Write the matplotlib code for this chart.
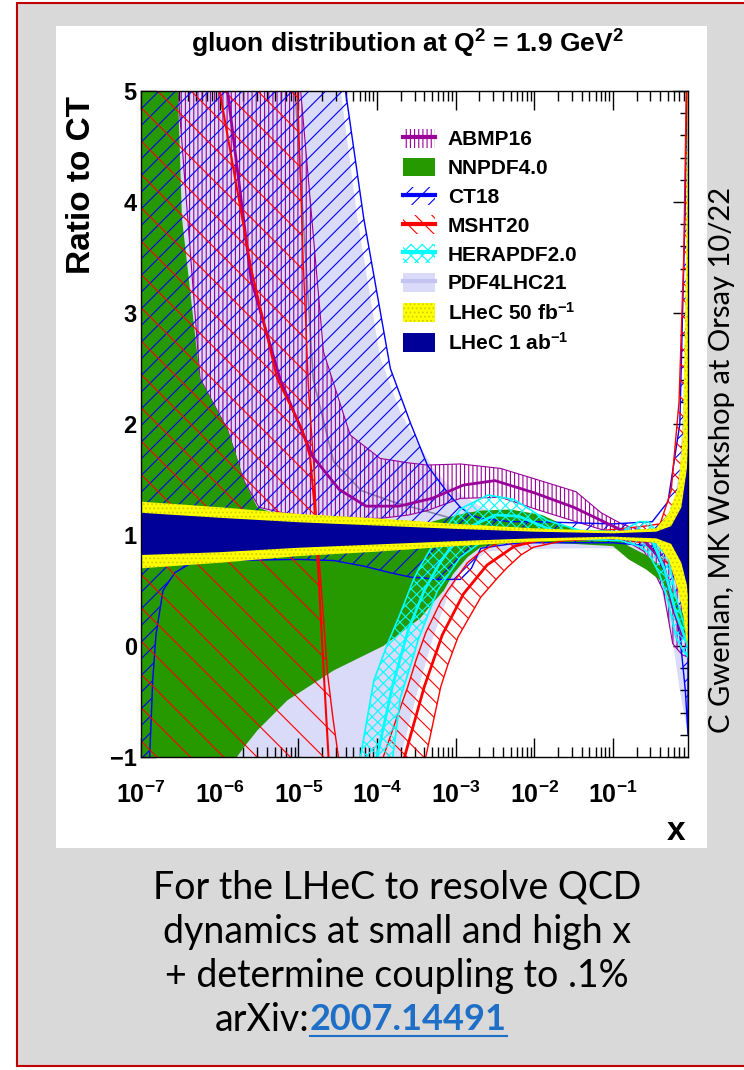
import numpy as np
import matplotlib
matplotlib.use("Agg")
import matplotlib.pyplot as plt
from matplotlib.patches import Patch, Rectangle
from matplotlib.lines import Line2D
from matplotlib.transforms import IdentityTransform
from matplotlib.ticker import FixedLocator, LogLocator, MultipleLocator, NullFormatter

plt.rcParams['font.family'] = ['Liberation Sans', 'DejaVu Sans']
plt.rcParams['mathtext.fontset'] = 'custom'
plt.rcParams['mathtext.rm'] = 'Liberation Sans:bold'
plt.rcParams['mathtext.bf'] = 'Liberation Sans:bold'
plt.rcParams['mathtext.it'] = 'Liberation Sans:bold'
plt.rcParams['mathtext.default'] = 'bf'
plt.rcParams['hatch.linewidth'] = 0.8

# ---- data: log10(x) positions and ratio-to-CT band edges ----
X_EDGE = -0.046  # log10 of the right end of the x axis

pdf4lhc_L = [-7.0, -4.6, -4.46, -4.25, -3.96, -3.7, -3.54, -3.5, -3.3, -3.1, -2.9, -2.6, -2.3, -1.5, -1.0, -0.6, -0.4, -0.25, -0.15, X_EDGE]
pdf4lhc_hi = [6.0, 6.0, 5.0, 3.86, 2.6, 2.1, 1.9, 1.85, 1.62, 1.45, 1.35, 1.22, 1.15, 1.05, 1.04, 1.05, 1.06, 1.2, 1.6, 3.0]
pdf4lhc_lo = [-2.0, -2.0, -2.0, -2.0, -2.0, -1.0, -0.56, -0.45, 0.05, 0.45, 0.7, 0.85, 0.87, 0.88, 0.88, 0.8, 0.55, 0.1, -0.4, -0.8]
pdf4lhc_cL = [-5.04, -4.81, -4.55, -4.2, -3.8, -3.3, -2.8, -2.0, -1.0, -0.5, -0.3, -0.15, X_EDGE]
pdf4lhc_c = [5.0, 2.4, 1.66, 1.4, 1.3, 1.2, 1.1, 1.0, 0.98, 0.93, 0.75, 0.5, 0.2]

abmp_L = [-7.0, -6.53, -6.25, -5.9, -5.7, -5.5, -5.2, -4.97, -4.68, -4.34, -3.96, -3.6, -3.36, -2.94, -2.43, -1.97, -1.47, -1.15, -0.89, -0.6, -0.45, -0.36, -0.24, -0.12, X_EDGE]
abmp_hi = [6.0, 6.0, 6.0, 6.0, 6.0, 6.0, 6.0, 5.0, 2.65, 1.9, 1.69, 1.65, 1.63, 1.64, 1.6, 1.5, 1.39, 1.2, 1.1, 1.03, 1.0, 0.95, 0.7, 0.4, 0.3]
abmp_lo = [6.0, 5.0, 2.41, 1.95, 1.5, 1.25, 1.2, 1.18, 1.16, 1.15, 1.15, 1.18, 1.22, 1.33, 1.34, 1.23, 1.12, 1.05, 0.97, 0.85, 0.63, 0.5, 0.02, -0.08, -0.1]
abmp_cL = [-5.9, -5.6, -5.23, -4.82, -4.48, -4.14, -3.72, -3.3, -2.9, -2.5, -2.0, -1.5, -1.0, -0.6, -0.36, -0.24, -0.12, X_EDGE]
abmp_c = [5.0, 3.3, 2.4, 1.71, 1.41, 1.26, 1.26, 1.33, 1.45, 1.49, 1.38, 1.25, 1.08, 0.95, 0.75, 0.35, 0.1, 0.05]

nnpdf_L = [-7.0, -6.53, -6.48, -6.25, -5.9, -5.78, -5.7, -5.52, -5.14, -4.55, -3.92, -3.45, -3.3, -3.15, -3.03, -2.85, -2.68, -2.3, -1.9, -1.5, -1.0, -0.8, -0.58, -0.36, -0.2, X_EDGE]
nnpdf_hi = [6.0, 5.0, 3.86, 2.41, 1.95, 1.7, 1.5, 1.25, 1.15, 1.1, 1.08, 1.1, 1.12, 1.15, 1.17, 1.2, 1.22, 1.23, 1.18, 1.05, 1.0, 0.9, 0.82, 0.7, 0.42, 0.2]
nnpdf_lo = [-2.0, -2.0, -2.0, -2.0, -2.0, -1.0, -0.92, -0.76, -0.49, -0.22, 0.0, 0.25, 0.38, 0.5, 0.65, 0.8, 0.89, 0.93, 0.93, 0.92, 0.9, 0.78, 0.69, 0.57, 0.23, 0.05]

ct18_L = [-7.0, -6.89, -6.85, -6.81, -6.72, -6.57, -6.38, -6.0, -5.0, -4.55, -4.40, -4.17, -3.83, -3.57, -3.36, -3.28, -3.1, -2.94, -2.8, -2.68, -2.3, -2.0, -1.0, -0.5, -0.3, -0.15, -0.08, X_EDGE]
ct18_hi = [6.0, 6.0, 6.0, 6.0, 6.0, 6.0, 6.0, 6.0, 6.0, 6.0, 5.0, 3.86, 2.5, 2.0, 1.63, 1.55, 1.38, 1.25, 1.18, 1.15, 1.12, 1.12, 1.1, 1.12, 1.3, 2.0, 4.0, 6.0]
ct18_lo = [-2.0, -1.0, -0.3, 0.1, 0.5, 0.66, 0.74, 0.77, 0.78, 0.77, 0.75, 0.72, 0.66, 0.62, 0.61, 0.6, 0.6, 0.6, 0.7, 0.88, 0.92, 0.93, 0.93, 0.9, 0.6, 0.1, -0.4, -0.8]

# MSHT20 ratio passes through a pole, so the band comes in two pieces
msht_a_L = [-7.0, -5.1, -5.01, -4.94, -4.87, -4.8, -4.76, -4.7, -4.63, -4.56, -4.49, -4.45]
msht_a_hi = [6.0, 6.0, 5.0, 3.5, 2.3, 1.6, 1.0, 0.45, -0.24, -0.65, -1.0, -1.2]
msht_a_lo = [-2.0] * 12
msht_b_L = [-3.92, -3.75, -3.61, -3.5, -3.38, -3.19, -3.1, -2.97, -2.85, -2.68, -2.46, -2.34, -2.17, -2.01, -1.62, -1.0, -0.6, -0.4, -0.26, -0.16, -0.1, X_EDGE]
msht_b_hi = [-1.0, -0.65, -0.37, -0.12, 0.12, 0.4, 0.5, 0.63, 0.75, 0.85, 0.93, 0.95, 0.97, 0.98, 1.0, 1.05, 1.08, 1.1, 1.4, 2.2, 3.5, 6.0]
msht_b_lo = [-2.0, -2.0, -2.0, -1.6, -1.0, -0.37, -0.17, 0.08, 0.23, 0.44, 0.62, 0.71, 0.82, 0.89, 0.95, 0.96, 0.93, 0.8, 0.72, 0.8, 0.85, 0.85]
msht_ca_L = [-6.0, -5.6, -5.27, -4.95, -4.85, -4.8, -4.74, -4.68, -4.6]
msht_ca = [5.0, 3.4, 2.41, 1.95, 1.7, 1.3, 0.6, -0.2, -1.2]
msht_cb_L = [-3.65, -3.4, -3.17, -2.9, -2.6, -2.25, -1.9, -1.0, -0.5, -0.3, -0.15, -0.08, X_EDGE]
msht_cb = [-1.0, -0.37, 0.1, 0.47, 0.73, 0.9, 0.96, 1.0, 1.0, 1.05, 1.3, 2.0, 3.0]

hera_L = [-4.21, -4.04, -3.86, -3.80, -3.70, -3.54, -3.48, -3.23, -2.94, -2.90, -2.59, -2.26, -1.83, -1.41, -0.9, -0.67, -0.55, -0.41, -0.3, -0.2, -0.1, X_EDGE]
hera_hi = [-1.0, -0.31, 0.03, 0.13, 0.3, 0.59, 0.68, 0.98, 1.23, 1.25, 1.36, 1.32, 1.13, 1.04, 1.03, 1.12, 1.12, 1.0, 0.8, 0.45, 0.2, 0.1]
hera_lo = [-2.0, -2.0, -2.0, -1.0, -0.46, -0.1, 0.05, 0.5, 0.8, 0.82, 0.98, 1.02, 0.97, 0.96, 0.95, 0.9, 0.84, 0.65, 0.4, 0.08, -0.05, -0.1]
hera_cL = [-4.0, -3.8, -3.6, -3.4, -3.2, -3.0, -2.8, -2.5, -2.2, -1.8, -1.4, -1.0, -0.7, -0.5, -0.35, -0.2, X_EDGE]
hera_c = [-1.0, -0.35, 0.15, 0.5, 0.75, 0.95, 1.08, 1.18, 1.17, 1.05, 1.0, 0.99, 1.0, 0.95, 0.7, 0.3, 0.0]

lhec50_L = [-7.0, -6.0, -5.0, -4.0, -3.0, -2.0, -1.0, -0.45, -0.29, -0.17, -0.11, -0.07, X_EDGE]
lhec50_hi = [1.30, 1.25, 1.19, 1.15, 1.10, 1.06, 1.035, 1.06, 1.2, 1.44, 1.9, 3.5, 5.5]
lhec50_lo = [0.70, 0.75, 0.81, 0.85, 0.90, 0.94, 0.965, 0.93, 0.78, 0.5, 0.3, 0.07, 0.0]

lhec1_L = [-7.0, -6.0, -5.0, -4.0, -3.0, -2.0, -1.0, -0.45, -0.26, -0.13, -0.06, X_EDGE]
lhec1_hi = [1.20, 1.155, 1.115, 1.085, 1.055, 1.03, 1.015, 1.03, 1.08, 1.25, 1.6, 1.8]
lhec1_lo = [0.82, 0.845, 0.885, 0.915, 0.945, 0.97, 0.985, 0.97, 0.92, 0.75, 0.55, 0.45]

xtick_labels = ['$10^{-7}$', '$10^{-6}$', '$10^{-5}$', '$10^{-4}$', '$10^{-3}$', '$10^{-2}$', '$10^{-1}$']
ytick_labels = ['\u22121', '0', '1', '2', '3', '4', '5']

C_ABMP, C_NNPDF, C_CT, C_MSHT = '#990099', '#269900', '#0000ff', '#ff0000'
C_HERA, C_PDF4LHC, C_LHEC50, C_LHEC1 = '#00ffff', '#dadaf9', '#ffff00', '#000099'

W, H = 744, 1070


def fx(px):
    return px / W


def fy(py):
    return 1 - py / H


def xs(L):
    return 10.0 ** np.array(L)


fig = plt.figure(figsize=(W / 100, H / 100), dpi=100)
fig.patch.set_facecolor('white')
fig.add_artist(Rectangle((fx(17), fy(1066)), fx(820) - fx(17), (1066 - 3) / H,
                         transform=fig.transFigure, facecolor='#d9d9d9',
                         edgecolor='#c00000', lw=1.5, zorder=-10))
fig.add_artist(Rectangle((fx(56), fy(848)), (707 - 56) / W, (848 - 26) / H,
                         transform=fig.transFigure, facecolor='white',
                         edgecolor='none', zorder=-9))

ax = fig.add_axes([fx(141), fy(757), (688 - 141) / W, (757 - 91) / H])

# bands, bottom to top
ax.fill_between(xs(pdf4lhc_L), pdf4lhc_lo, pdf4lhc_hi, facecolor=C_PDF4LHC, edgecolor='none', zorder=1)
ax.plot(xs(pdf4lhc_cL), pdf4lhc_c, color='#8888aa', lw=1.2, zorder=1.1)
ax.fill_between(xs(abmp_L), abmp_lo, abmp_hi, facecolor='none', edgecolor=C_ABMP, hatch='||||', lw=0.8, zorder=2)
ax.fill_between(xs(nnpdf_L), nnpdf_lo, nnpdf_hi, facecolor=C_NNPDF, edgecolor='none', zorder=3)
ax.fill_between(xs(ct18_L), ct18_lo, ct18_hi, facecolor='none', edgecolor=C_CT, hatch='//', lw=1.0, zorder=4)
ax.fill_between(xs(msht_a_L), msht_a_lo, msht_a_hi, facecolor='none', edgecolor=C_MSHT, hatch='\\', lw=1.0, zorder=5)
ax.fill_between(xs(msht_b_L), msht_b_lo, msht_b_hi, facecolor='none', edgecolor=C_MSHT, hatch='\\\\', lw=1.0, zorder=5)
ax.fill_between(xs(hera_L), hera_lo, hera_hi, facecolor='none', edgecolor=C_HERA, hatch='xxx', lw=1.2, zorder=6)

ax.plot(xs(abmp_cL), abmp_c, color=C_ABMP, lw=2, zorder=6.5)
ax.plot(xs(msht_ca_L), msht_ca, color=C_MSHT, lw=1.5, zorder=6.5)
ax.plot(xs(msht_cb_L), msht_cb, color=C_MSHT, lw=2, zorder=6.5)
ax.plot(xs(hera_cL), hera_c, color=C_HERA, lw=2, zorder=6.5)
ax.plot(xs([-7.0, X_EDGE]), [1.0, 1.0], color=C_CT, lw=2, zorder=6.5)

ax.fill_between(xs(lhec50_L), lhec50_lo, lhec50_hi, facecolor=C_LHEC50, edgecolor='#d0d000', hatch='....', lw=0, zorder=7)
ax.fill_between(xs(lhec1_L), lhec1_lo, lhec1_hi, facecolor=C_LHEC1, edgecolor='none', zorder=8)

# axes
ax.set_xscale('log')
ax.set_xlim(1e-7, 10 ** X_EDGE)
ax.set_ylim(-1, 5)
ax.xaxis.set_major_locator(FixedLocator(10.0 ** np.arange(-7, 0)))
ax.set_xticks(10.0 ** np.arange(-7, 0), xtick_labels)
ax.xaxis.set_minor_locator(LogLocator(base=10, subs=np.arange(2, 10), numticks=30))
ax.xaxis.set_minor_formatter(NullFormatter())
ax.set_yticks([-1, 0, 1, 2, 3, 4, 5], ytick_labels)
ax.yaxis.set_minor_locator(MultipleLocator(0.2))
ax.tick_params(which='both', direction='in', top=True, right=True, width=1, color='black')
ax.tick_params(axis='x', which='major', length=14, labelsize=18, pad=18)
ax.tick_params(axis='x', which='minor', length=7.5)
ax.tick_params(axis='y', which='major', length=11, labelsize=17, pad=3)
ax.tick_params(axis='y', which='minor', length=5.5)
for lbl in ax.get_yticklabels():
    lbl.set_fontweight('bold')
for s in ax.spines.values():
    s.set_linewidth(1.0)
    s.set_zorder(10)

# legend
handles = [
    (Patch(facecolor='none', edgecolor=C_ABMP, hatch='||||', lw=0), Line2D([], [], color=C_ABMP, lw=3)),
    Patch(facecolor=C_NNPDF, edgecolor='none'),
    (Patch(facecolor='none', edgecolor=C_CT, hatch='//', lw=0), Line2D([], [], color=C_CT, lw=3)),
    (Patch(facecolor='none', edgecolor=C_MSHT, hatch='\\\\', lw=0), Line2D([], [], color=C_MSHT, lw=3)),
    (Patch(facecolor='none', edgecolor=C_HERA, hatch='xxx', lw=0), Line2D([], [], color=C_HERA, lw=3)),
    (Patch(facecolor=C_PDF4LHC, edgecolor='none'), Line2D([], [], color='#c4c4f2', lw=3)),
    Patch(facecolor=C_LHEC50, edgecolor='#d0d000', hatch='....', lw=0),
    Patch(facecolor=C_LHEC1, edgecolor='none'),
]
labels = ['ABMP16', 'NNPDF4.0', 'CT18', 'MSHT20', 'HERAPDF2.0', 'PDF4LHC21',
          'LHeC 50 fb$^{-1}$', 'LHeC 1 ab$^{-1}$']
leg = ax.legend(handles, labels, loc='upper left', bbox_to_anchor=(fx(403), fy(129)),
                bbox_transform=fig.transFigure, frameon=False,
                prop={'weight': 'bold', 'size': 15}, handlelength=1.55,
                handleheight=1.0, labelspacing=0.40, handletextpad=0.6,
                borderpad=0, borderaxespad=0)
leg.set_zorder(20)

# texts
fig.text(fx(407), fy(44), 'gluon distribution at Q$^2$ = 1.9 GeV$^2$', ha='center', va='center',
         fontsize=19, fontweight='bold')
fig.text(fx(82), fy(185), 'Ratio to CT', rotation=90, ha='center', va='center',
         fontsize=24, fontweight='bold')
fig.text(fx(676), fy(832), 'x', ha='center', va='center', fontsize=24, fontweight='bold')

side = ['Lato', 'DejaVu Sans']
fig.text(fx(722), fy(460), 'C Gwenlan, MK Workshop at Orsay 10/22', rotation=90,
         ha='center', va='center', fontsize=21, family=side)
body = ['For the LHeC to resolve QCD', 'dynamics at small and high x', '+ determine coupling to .1%']
for i, line in enumerate(body):
    fig.text(fx(397), fy(888 + 44 * i), line, ha='center', va='center', fontsize=27, family=side)
fig.text(fx(309), fy(1020), 'arXiv:', ha='right', va='center', fontsize=27, family=side)
link = fig.text(fx(310), fy(1020), '2007.14491', ha='left', va='center', fontsize=26,
                family=side, fontweight='bold', color='#1f6fc6')
fig.canvas.draw()
bb = link.get_window_extent()
fig.add_artist(Line2D([bb.x0, bb.x1], [bb.y0 + 1, bb.y0 + 1], color='#1f6fc6', lw=1.5,
                      transform=IdentityTransform()))

fig.savefig('out.png', dpi=100)
